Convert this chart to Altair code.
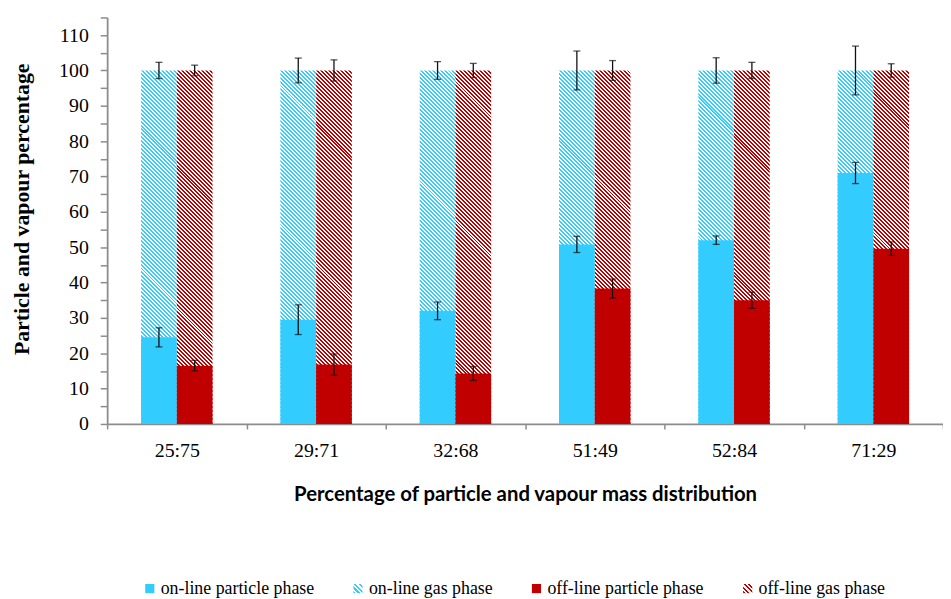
import altair as alt
import pandas as pd

# ---------------- data ----------------
categories = ["25:75", "29:71", "32:68", "51:49", "52:84", "71:29"]
lines = ["on-line", "off-line"]
series = ["on-line particle phase", "on-line gas phase",
          "off-line particle phase", "off-line gas phase"]

online_particle = [24.5, 29.5, 32.0, 50.8, 52.0, 71.0]
online_particle_err = [2.7, 4.2, 2.5, 2.3, 1.2, 3.0]
offline_particle = [16.5, 16.8, 14.3, 38.3, 35.0, 49.6]
offline_particle_err = [1.5, 3.0, 2.0, 2.7, 2.3, 1.9]
online_total = [100, 100, 100, 100, 100, 100]
online_total_err = [2.3, 3.5, 2.5, 5.5, 3.6, 6.9]
offline_total = [100, 100, 100, 100, 100, 100]
offline_total_err = [1.5, 3.0, 2.0, 2.8, 2.3, 1.9]

rows = []
for i, c in enumerate(categories):
    rows.append(dict(category=c, line="on-line", series="on-line particle phase",
                     particle=online_particle[i], perr=online_particle_err[i],
                     total=online_total[i], terr=online_total_err[i]))
    rows.append(dict(category=c, line="off-line", series="off-line particle phase",
                     particle=offline_particle[i], perr=offline_particle_err[i],
                     total=offline_total[i], terr=offline_total_err[i]))
df = pd.DataFrame(rows)

# ---------------- styling ----------------
BLUE = "#33CCFF"
RED = "#C00000"
AXIS_GREY = "#8C8C8C"
PLOT_W, PLOT_H = 843, 410
Y_MAX = 115
OFFSET_PAD = 0.95

bar_w = PLOT_W / len(categories) / (2 + 2 * OFFSET_PAD)
bar_h = 100 * PLOT_H / Y_MAX


def hatch_gradient(color, w, h, pitch=4.0, frac=0.5):
    """Diagonal '\\' stripes as a hard-stop linear gradient (bounding-box units)."""
    a = w / h
    s = (a + 1) / (a * a + 1)
    n = int(round((w + h) / pitch))
    stops = []
    for k in range(n):
        s0, sm, s1 = k / n, (k + frac) / n, (k + 1) / n
        stops += [
            {"offset": s0, "color": color},
            {"offset": sm, "color": color},
            {"offset": sm, "color": "#FFFFFF"},
            {"offset": s1, "color": "#FFFFFF"},
        ]
    return {"gradient": "linear", "x1": 0, "y1": 1, "x2": a * s, "y2": 1 - s,
            "stops": stops}


def legend_hatch_expr(color, n=4):
    parts = []
    for k in range(n):
        s0, sm, s1 = k / n, (k + 0.5) / n, (k + 1) / n
        parts += [
            "{offset: %g, color: '%s'}" % (s0, color),
            "{offset: %g, color: '%s'}" % (sm, color),
            "{offset: %g, color: '#FFFFFF'}" % sm,
            "{offset: %g, color: '#FFFFFF'}" % s1,
        ]
    return ("{gradient: 'linear', x1: 0, y1: 1, x2: 1, y2: 0, stops: ["
            + ", ".join(parts) + "]}")


x_enc = alt.X(
    "category:N", sort=categories,
    scale=alt.Scale(paddingInner=0, paddingOuter=0),
    axis=alt.Axis(
        title="Percentage of particle and vapour mass distribution",
        labelAngle=0, tickBand="extent", tickSize=5, tickColor=AXIS_GREY,
        tickWidth=1.5, domainColor=AXIS_GREY, domainWidth=1.8,
        labelFont="Liberation Serif", labelFontSize=20, labelColor="#000000",
        labelPadding=12, titleFont="Lato", titleFontSize=20.5,
        titleFontWeight="bold", titleColor="#000000", titlePadding=24,
    ),
)
xo_enc = alt.XOffset("line:N", sort=lines,
                     scale=alt.Scale(paddingInner=0, paddingOuter=OFFSET_PAD))
y_scale = alt.Scale(domain=[0, Y_MAX], nice=False, zero=True)
y_axis = alt.Axis(
    title="Particle and vapour percentage",
    values=list(range(0, Y_MAX + 1, 5)),
    labelExpr="datum.value % 10 == 0 ? datum.label : ''",
    labelOverlap=False, grid=False, tickSize=7, tickColor=AXIS_GREY,
    tickWidth=1.5, domainColor=AXIS_GREY, domainWidth=1.8,
    labelFont="Liberation Serif", labelFontSize=20, labelColor="#000000",
    labelPadding=12, titleFont="Liberation Serif", titleFontSize=22,
    titleFontWeight="bold", titleColor="#000000", titleX=-86,
    titleBaseline="middle", titleY=193,
)

base = alt.Chart(df).encode(x=x_enc, xOffset=xo_enc)

gas_on = base.transform_filter(alt.datum.line == "on-line").mark_bar(
    fill=hatch_gradient(BLUE, bar_w, bar_h)
).encode(y=alt.Y("total:Q", scale=y_scale, axis=y_axis))

gas_off = base.transform_filter(alt.datum.line == "off-line").mark_bar(
    fill=hatch_gradient(RED, bar_w, bar_h)
).encode(y=alt.Y("total:Q", scale=y_scale, axis=y_axis))

particle = base.mark_bar().encode(
    y=alt.Y("particle:Q", scale=y_scale, axis=y_axis),
    fill=alt.Fill(
        "series:N",
        scale=alt.Scale(domain=series,
                        range=[BLUE, {"expr": legend_hatch_expr(BLUE)},
                               RED, {"expr": legend_hatch_expr(RED)}]),
        legend=alt.Legend(
            title=None, orient="none", legendX=34, legendY=567,
            direction="horizontal", columns=4, columnPadding=35,
            symbolType="square", symbolSize=85, symbolStrokeWidth=0,
            labelFont="Liberation Serif", labelFontSize=18,
            labelColor="#000000", labelOffset=2, labelLimit=400,
        ),
    ),
)

err = base.transform_calculate(
    plo="datum.particle - datum.perr", phi="datum.particle + datum.perr",
    tlo="datum.total - datum.terr", thi="datum.total + datum.terr",
)

rule_p = err.mark_rule(color="#111111", strokeWidth=1.3).encode(
    y=alt.Y("plo:Q", scale=y_scale, axis=y_axis), y2="phi:Q")
rule_t = err.mark_rule(color="#111111", strokeWidth=1.3).encode(
    y=alt.Y("tlo:Q", scale=y_scale, axis=y_axis), y2="thi:Q")
caps = err.transform_fold(["plo", "phi", "tlo", "thi"], as_=["k", "v"]).mark_tick(
    orient="horizontal", size=7, thickness=1.3, color="#111111"
).encode(y=alt.Y("v:Q", scale=y_scale, axis=y_axis))

chart = alt.layer(gas_on, gas_off, particle, rule_p, rule_t, caps).properties(
    width=PLOT_W, height=PLOT_H,
    autosize=alt.AutoSizeParams(type="none"),
    padding={"left": 100, "top": 7, "right": 0, "bottom": 174},
    background="white",
).configure_view(stroke=None)

chart.save("out.html", embed_options={"renderer": "svg", "actions": False})
